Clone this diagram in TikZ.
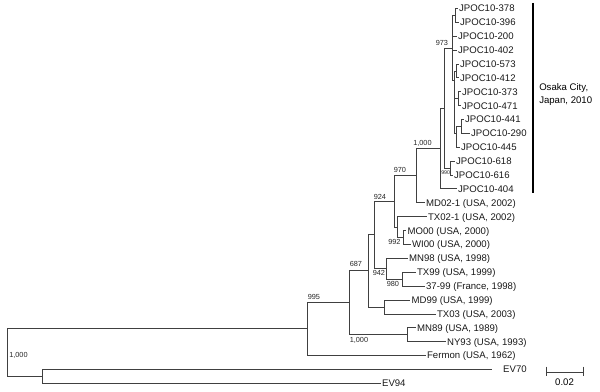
\documentclass[tikz,border=0pt]{standalone}
\usepackage{fontspec}
\setmainfont{Liberation Sans}
\begin{document}
\begin{tikzpicture}[x=0.75pt,y=-0.75pt,
  br/.style={draw=black!75, line width=0.6pt},
  leaf/.style={anchor=west, inner xsep=1pt, inner ysep=0pt, font=\fontsize{7.2}{8}\selectfont, text=black!90, text height=5.2pt, text depth=0pt},
  bs/.style={inner sep=0pt, font=\fontsize{5.5}{6}\selectfont, text=black!85, text height=4pt, text depth=0pt},
  bsl/.style={bs, anchor=west},
]
\useasboundingbox (0,0) rectangle (600,392);
% ---------- leaves ----------
\node[leaf] (J378) at (457.5,8.5) {JPOC10-378};
\node[leaf] (J396) at (458.5,22.4) {JPOC10-396};
\node[leaf] (J200) at (456.5,36.3) {JPOC10-200};
\node[leaf] (J402) at (456.5,50.1) {JPOC10-402};
\node[leaf] (J573) at (458.5,64.0) {JPOC10-573};
\node[leaf] (J412) at (458.5,77.9) {JPOC10-412};
\node[leaf] (J373) at (460.5,91.8) {JPOC10-373};
\node[leaf] (J471) at (460.5,105.7) {JPOC10-471};
\node[leaf] (J441) at (463.5,119.5) {JPOC10-441};
\node[leaf] (J290) at (469.5,133.4) {JPOC10-290};
\node[leaf] (J445) at (459.5,147.3) {JPOC10-445};
\node[leaf] (J618) at (454.5,161.2) {JPOC10-618};
\node[leaf] (J616) at (452.5,175.1) {JPOC10-616};
\node[leaf] (J404) at (456.5,188.9) {JPOC10-404};
\node[leaf] (MD02) at (424.5,202.8) {MD02-1 (USA, 2002)};
\node[leaf] (TX02) at (426.5,216.7) {TX02-1 (USA, 2002)};
\node[leaf] (MO00) at (406,230.6) {MO00 (USA, 2000)};
\node[leaf] (WI00) at (410.5,244.5) {WI00 (USA, 2000)};
\node[leaf] (MN98) at (407.5,258.3) {MN98 (USA, 1998)};
\node[leaf] (TX99) at (415.5,272.2) {TX99 (USA, 1999)};
\node[leaf] (F3799) at (424.5,286.1) {37-99 (France, 1998)};
\node[leaf] (MD99) at (410,300.0) {MD99 (USA, 1999)};
\node[leaf] (TX03) at (435.5,313.9) {TX03 (USA, 2003)};
\node[leaf] (MN89) at (415.5,327.7) {MN89 (USA, 1989)};
\node[leaf] (NY93) at (445.5,341.6) {NY93 (USA, 1993)};
\node[leaf] (Ferm) at (425.5,355.5) {Fermon (USA, 1962)};
\node[leaf, inner xsep=8.2pt] (EV70) at (492,369.4) {EV70};
\node[leaf] (EV94) at (380.5,383.3) {EV94};
% ---------- internal nodes ----------
\coordinate (R) at (7,352);
\coordinate (NEV) at (42,376.3);
\coordinate (N307) at (307,328.5);
\coordinate (N349) at (349,302);
\coordinate (Nmn) at (407,334.6);
\coordinate (N368) at (368,270);
\coordinate (N384) at (384,307);
\coordinate (N374) at (374,234);
\coordinate (N386) at (386,268.7);
\coordinate (Ntx) at (402,279.1);
\coordinate (N394) at (394,201);
\coordinate (N397) at (397,227);
\coordinate (Nmw) at (403,237.5);
\coordinate (N416) at (416,175.4);
\coordinate (N440) at (440,148);
\coordinate (N444) at (444,108);
\coordinate (N450) at (450,168.2);
\coordinate (N452) at (452,48);
\coordinate (Nup) at (455,15.5);
\coordinate (Nlow) at (454,80);
\coordinate (Nl1) at (456,71);
\coordinate (Nl2) at (458,98.7);
\coordinate (Nl3) at (456,133.4);
\coordinate (Nl4) at (461,126.5);
% ---------- branches ----------
\foreach \p/\c in {R/N307, R/NEV, N307/N349, N349/N368, N349/Nmn, N368/N374, N368/N384,
  N374/N394, N374/N386, N386/Ntx, N394/N416, N394/N397, N397/Nmw, N416/N440,
  N440/N444, N444/N450, N444/N452, N452/Nup, N452/Nlow, Nlow/Nl1, Nlow/Nl2, Nlow/Nl3, Nl3/Nl4}
  \draw[br] (\p) |- (\c);
\foreach \p/\c in {NEV/EV70, NEV/EV94, N307/Ferm, Nmn/MN89, Nmn/NY93, N384/MD99, N384/TX03,
  N386/MN98, Ntx/TX99, Ntx/F3799, N397/TX02, Nmw/MO00, Nmw/WI00, N416/MD02,
  N440/J404, N450/J618, N450/J616, N452/J402, N452/J200, Nup/J378, Nup/J396,
  Nl1/J573, Nl1/J412, Nl2/J373, Nl2/J471, Nl4/J441, Nl4/J290, Nl3/J445}
  \draw[br] (\p) |- (\c.west);
% ---------- support values ----------
\node[bsl] (b1000r) at (9,355) {1,000};
\node[bsl] (b995) at (307.5,297) {995};
\node[bsl] (b687) at (349.5,264) {687};
\node[bsl] (b1000m) at (349.5,340) {1,000};
\node[bsl] (b924) at (373.5,196.5) {924};
\node[bsl] (b942) at (372.5,273) {942};
\node[bsl] (b980) at (386.5,283.5) {980};
\node[bsl] (b992) at (388,242) {992};
\node[bsl] (b970) at (393.5,170) {970};
\node[bsl] (b1000j) at (413,143) {1,000};
\node[bsl] (b973) at (435.5,43) {973};
\node[bs, anchor=west, font=\fontsize{4}{5}\selectfont] (b990) at (441,172) {990};
% ---------- Osaka bracket ----------
\coordinate (oT) at (533,3);
\coordinate (oB) at (533,193);
\draw[line width=1.5pt] (oT) -- (oB);
\node[anchor=west, inner sep=0pt, align=left, font=\fontsize{7.2}{9.7}\selectfont] (osaka) at (539,94.5) {Osaka City,\\Japan, 2010};
% ---------- scale bar ----------
\coordinate (sL) at (546,372);
\coordinate (sR) at (583,372);
\draw[br] (sL) -- (sR);
\draw[br] ([yshift=4pt]sL) -- ([yshift=-3pt]sL);
\draw[br] ([yshift=4pt]sR) -- ([yshift=-3pt]sR);
\node[font=\fontsize{7.2}{8}\selectfont, inner sep=0pt] (sc) at (564.5,382.5) {0.02};
\end{tikzpicture}
\end{document}
